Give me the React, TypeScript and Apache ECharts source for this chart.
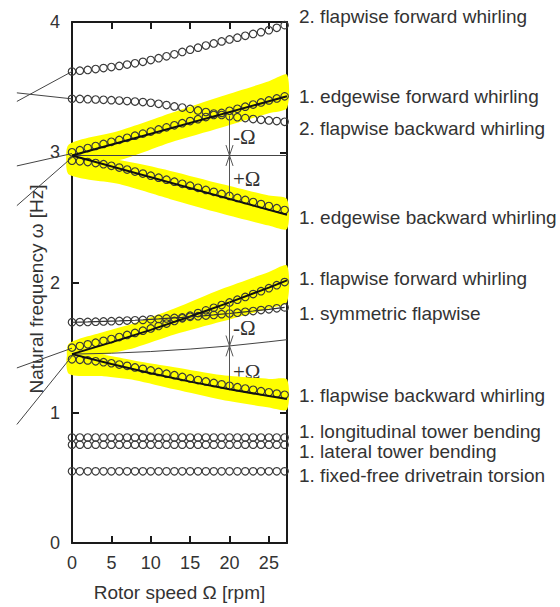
import React, { useEffect, useRef } from "react";
import * as echarts from "echarts";

// ---------- data ----------
const rpm = [0, 1, 2, 3, 4, 5, 6, 7, 8, 9, 10, 11, 12, 13, 14, 15, 16, 17, 18, 19, 20, 21, 22, 23, 24, 25, 26, 27];

const flap2Forward = [3.620, 3.626, 3.632, 3.639, 3.646, 3.654, 3.663, 3.673, 3.683, 3.694, 3.708, 3.722, 3.737, 3.752, 3.770, 3.787, 3.803, 3.819, 3.835, 3.851, 3.866, 3.880, 3.894, 3.908, 3.922, 3.937, 3.955, 3.976];
const flap2Backward = [3.410, 3.409, 3.407, 3.405, 3.403, 3.400, 3.397, 3.393, 3.389, 3.385, 3.380, 3.372, 3.362, 3.352, 3.343, 3.333, 3.321, 3.309, 3.297, 3.286, 3.277, 3.269, 3.262, 3.255, 3.249, 3.244, 3.239, 3.234];
const edge1Forward = [3.000, 3.016, 3.032, 3.048, 3.064, 3.080, 3.095, 3.111, 3.127, 3.143, 3.159, 3.175, 3.191, 3.207, 3.223, 3.239, 3.254, 3.270, 3.286, 3.302, 3.318, 3.334, 3.350, 3.366, 3.382, 3.398, 3.413, 3.429];
const edge1Backward = [2.935, 2.930, 2.925, 2.917, 2.908, 2.896, 2.882, 2.867, 2.852, 2.836, 2.820, 2.805, 2.789, 2.774, 2.758, 2.743, 2.727, 2.711, 2.696, 2.680, 2.665, 2.649, 2.634, 2.618, 2.602, 2.587, 2.571, 2.556];
const flap1Forward = [1.500, 1.512, 1.525, 1.538, 1.552, 1.566, 1.581, 1.597, 1.613, 1.630, 1.647, 1.666, 1.685, 1.705, 1.725, 1.745, 1.765, 1.786, 1.806, 1.827, 1.847, 1.868, 1.889, 1.911, 1.933, 1.956, 1.979, 2.003];
const flap1Symmetric = [1.695, 1.696, 1.697, 1.699, 1.701, 1.703, 1.705, 1.708, 1.710, 1.713, 1.717, 1.720, 1.724, 1.728, 1.732, 1.737, 1.741, 1.746, 1.751, 1.757, 1.762, 1.768, 1.775, 1.781, 1.788, 1.794, 1.802, 1.809];
const flap1Backward = [1.410, 1.406, 1.402, 1.395, 1.388, 1.380, 1.370, 1.360, 1.348, 1.337, 1.325, 1.313, 1.300, 1.288, 1.275, 1.263, 1.251, 1.240, 1.229, 1.218, 1.207, 1.196, 1.186, 1.176, 1.166, 1.157, 1.147, 1.138];
const towerLongitudinal = [0.81, 0.81, 0.81, 0.81, 0.81, 0.81, 0.81, 0.81, 0.81, 0.81, 0.81, 0.81, 0.81, 0.81, 0.81, 0.81, 0.81, 0.81, 0.81, 0.81, 0.81, 0.81, 0.81, 0.81, 0.81, 0.81, 0.81, 0.81];
const towerLateral = [0.755, 0.755, 0.755, 0.755, 0.755, 0.755, 0.755, 0.755, 0.755, 0.755, 0.755, 0.755, 0.755, 0.755, 0.755, 0.755, 0.755, 0.755, 0.755, 0.755, 0.755, 0.755, 0.755, 0.755, 0.755, 0.755, 0.755, 0.755];
const drivetrainTorsion = [0.55, 0.55, 0.55, 0.55, 0.55, 0.55, 0.55, 0.55, 0.55, 0.55, 0.55, 0.55, 0.55, 0.55, 0.55, 0.55, 0.55, 0.55, 0.55, 0.55, 0.55, 0.55, 0.55, 0.55, 0.55, 0.55, 0.55, 0.55];

// theoretical lines (rotating frame and ±Ω shifted)
const edgeTheoryX = [0, 27.3];
const edgeRotating = [2.975, 2.975];
const edgeForwardTheory = [2.975, 3.43];
const edgeBackwardTheory = [2.975, 2.52];
const flapTheoryX = [0, 5, 10, 15, 20, 25, 27.3];
const flapRotating = [1.450, 1.457, 1.470, 1.489, 1.513, 1.545, 1.561];
const flapForwardTheory = [1.450, 1.540, 1.636, 1.739, 1.847, 1.961, 2.016];
const flapBackwardTheory = [1.450, 1.374, 1.303, 1.239, 1.180, 1.128, 1.106];

// stray line segments left of the frame (negative rotor speed)
const strayX = [-7, 0];
const strayLines = [
  [3.39, 3.62],
  [3.456, 3.41],
  [2.895, 2.99],
  [2.59, 2.96],
  [1.344, 1.496],
  [0.91, 1.435],
];

// yellow highlight bands
const edgeBandX = [-0.4, 6, 12.5, 19, 25, 27.3];
const edgeFwdBandLo = [2.90, 2.94, 3.075, 3.19, 3.30, 3.34];
const edgeFwdBandHi = [3.06, 3.165, 3.30, 3.43, 3.545, 3.595];
const edgeBwdBandLo = [2.83, 2.756, 2.64, 2.53, 2.437, 2.41];
const edgeBwdBandHi = [2.98, 2.94, 2.857, 2.756, 2.667, 2.64];
const flapBandX = [-0.4, 4, 8, 13, 19, 25, 27.3];
const flapFwdBandLo = [1.40, 1.445, 1.50, 1.60, 1.70, 1.80, 1.85];
const flapFwdBandHi = [1.53, 1.62, 1.69, 1.80, 1.95, 2.08, 2.13];
const flapBwdBandLo = [1.30, 1.28, 1.25, 1.18, 1.10, 1.04, 1.025];
const flapBwdBandHi = [1.47, 1.445, 1.40, 1.35, 1.29, 1.26, 1.255];

// ±Ω arrows at 20 rpm: [top, middle, bottom]
const arrowRpm = 20;
const edgeArrow = [3.28, 2.975, 2.665];
const flapArrow = [1.853, 1.513, 1.19];

const xTicks = [0, 5, 10, 15, 20, 25];
const modeLabels = [
  "2. flapwise forward whirling",
  "1. edgewise forward whirling",
  "2. flapwise backward whirling",
  "1. edgewise backward whirling",
  "1. flapwise forward whirling",
  "1. symmetric flapwise",
  "1. flapwise backward whirling",
  "1. longitudinal tower bending",
  "1. lateral tower bending",
  "1. fixed-free drivetrain torsion",
];

// ---------- layout ----------
const W = 560;
const H = 607;
const FONT = "'Liberation Sans', Arial, Helvetica, sans-serif";
const SERIF = "'Liberation Serif', 'Times New Roman', serif";
const TEXT = "#333";
const labelX = 299;
const labelY = [16, 96, 128, 217, 278, 313, 395, 431, 451, 475];
const headHalf = 0.45;
const headLen = 0.08;

const pts = (xs: number[], ys: number[]) => xs.map((x, i) => [x, ys[i]]);

const circleSeries = (ys: number[]) => ({
  type: "line",
  data: pts(rpm, ys),
  symbol: "circle",
  symbolSize: 7.5,
  showSymbol: true,
  lineStyle: { width: 0, opacity: 0 },
  itemStyle: { color: "rgba(255,255,255,0)", borderColor: "#3a3a3a", borderWidth: 1.15 },
  z: 4,
  silent: true,
});

const lineSeries = (xs: number[], ys: number[], width: number, color: string, z: number) => ({
  type: "line",
  data: pts(xs, ys),
  symbol: "none",
  lineStyle: { width, color },
  z,
  silent: true,
  clip: false,
});

// polyline drawn by a custom series, so that it may run outside the frame
const strayLineSeries = (xs: number[], ys: number[]) => ({
  type: "custom",
  coordinateSystem: "cartesian2d",
  data: [[0, 0]],
  silent: true,
  clip: false,
  z: 3,
  renderItem: (_params: any, api: any) => ({
    type: "polyline",
    shape: { points: xs.map((x, i) => api.coord([x, ys[i]])) },
    style: { stroke: "#444", lineWidth: 1, fill: null },
  }),
});

const bandSeries = (xs: number[], lo: number[], hi: number[]) => ({
  type: "custom",
  coordinateSystem: "cartesian2d",
  data: [[0, 0]],
  silent: true,
  clip: false,
  z: 1,
  renderItem: (_params: any, api: any) => {
    const lower = xs.map((x, i) => api.coord([x, lo[i]]));
    const upper = xs.map((x, i) => api.coord([x, hi[i]])).reverse();
    return {
      type: "polygon",
      shape: { points: lower.concat(upper), smooth: 0.25 },
      style: { fill: "#ffff00" },
    };
  },
});

const arrowSeries = (vals: number[]) => {
  const [top, mid, bottom] = vals;
  return [
    lineSeries([arrowRpm, arrowRpm], [top, bottom], 1, "#555", 6),
    lineSeries([arrowRpm - headHalf, arrowRpm, arrowRpm + headHalf], [mid + headLen, mid, mid + headLen], 1, "#555", 6),
    lineSeries([arrowRpm - headHalf, arrowRpm, arrowRpm + headHalf], [mid - headLen, mid, mid - headLen], 1, "#555", 6),
  ];
};

const axisLineStyle = { color: "#1a1a1a", width: 2 };

export default function App() {
  const ref = useRef<HTMLDivElement>(null);

  useEffect(() => {
    if (!ref.current) return;
    const chart = echarts.init(ref.current, null, { renderer: "svg" });

    const xBase = {
      type: "value",
      min: 0,
      max: 27.3,
      interval: 5,
      splitLine: { show: false },
      axisLine: { show: true, onZero: false, lineStyle: axisLineStyle },
      axisTick: { show: true, inside: true, length: 7, lineStyle: axisLineStyle },
    };
    const yBase = {
      type: "value",
      min: 0,
      max: 4,
      interval: 1,
      splitLine: { show: false },
      axisLine: { show: true, onZero: false, lineStyle: axisLineStyle },
      axisTick: { show: true, inside: true, length: 7, lineStyle: axisLineStyle },
    };

    const series: any[] = [
      bandSeries(edgeBandX, edgeFwdBandLo, edgeFwdBandHi),
      bandSeries(edgeBandX, edgeBwdBandLo, edgeBwdBandHi),
      bandSeries(flapBandX, flapFwdBandLo, flapFwdBandHi),
      bandSeries(flapBandX, flapBwdBandLo, flapBwdBandHi),
      ...strayLines.map((ys) => strayLineSeries(strayX, ys)),
      lineSeries(edgeTheoryX, edgeRotating, 1, "#444", 3),
      lineSeries(flapTheoryX, flapRotating, 1, "#444", 3),
      lineSeries(edgeTheoryX, edgeForwardTheory, 2, "#111", 5),
      lineSeries(edgeTheoryX, edgeBackwardTheory, 2, "#111", 5),
      lineSeries(flapTheoryX, flapForwardTheory, 2, "#111", 5),
      lineSeries(flapTheoryX, flapBackwardTheory, 2, "#111", 5),
      lineSeries(rpm, flap1Symmetric, 1.2, "#333", 5),
      circleSeries(flap2Forward),
      circleSeries(flap2Backward),
      circleSeries(edge1Forward),
      circleSeries(edge1Backward),
      circleSeries(flap1Forward),
      circleSeries(flap1Symmetric),
      circleSeries(flap1Backward),
      circleSeries(towerLongitudinal),
      circleSeries(towerLateral),
      circleSeries(drivetrainTorsion),
      ...arrowSeries(edgeArrow),
      ...arrowSeries(flapArrow),
    ];

    const graphic: any[] = [
      {
        type: "text",
        x: 36,
        y: 289,
        rotation: Math.PI / 2,
        style: {
          text: "Natural frequency ω [Hz]",
          fontSize: 19,
          fontFamily: FONT,
          fill: TEXT,
          align: "center",
          verticalAlign: "middle",
        },
      },
      ...modeLabels.map((t, i) => ({
        type: "text",
        x: labelX,
        y: labelY[i],
        style: { text: t, fontSize: 19, fontFamily: FONT, fill: TEXT, align: "left", verticalAlign: "middle" },
      })),
      ...[
        ["-Ω", 137],
        ["+Ω", 179],
        ["-Ω", 328],
        ["+Ω", 372],
      ].map(([t, y]) => ({
        type: "text",
        x: 233,
        y: y as number,
        style: { text: t as string, fontSize: 21, fontFamily: SERIF, fill: TEXT, align: "left", verticalAlign: "middle" },
      })),
    ];

    chart.setOption({
      animation: false,
      backgroundColor: "#fff",
      grid: { left: 72, right: 273, top: 22, bottom: 61, containLabel: false },
      xAxis: [
        {
          ...xBase,
          position: "bottom",
          name: "Rotor speed Ω [rpm]",
          nameLocation: "middle",
          nameGap: 40,
          nameTextStyle: { fontSize: 19, fontFamily: FONT, color: TEXT },
          axisLabel: {
            show: true,
            showMaxLabel: false,
            fontSize: 18,
            fontFamily: FONT,
            color: TEXT,
            margin: 11,
            formatter: (v: number) => (xTicks.includes(v) ? String(v) : ""),
          },
        },
        { ...xBase, position: "top", axisLabel: { show: false } },
      ],
      yAxis: [
        {
          ...yBase,
          position: "left",
          axisLabel: { show: true, fontSize: 18, fontFamily: FONT, color: TEXT, margin: 12 },
        },
        { ...yBase, position: "right", axisLabel: { show: false } },
      ],
      graphic,
      series,
    });

    return () => chart.dispose();
  }, []);

  return (
    <div
      ref={ref}
      style={{ position: "fixed", left: 0, top: 0, width: W, height: H, background: "#fff" }}
    />
  );
}
